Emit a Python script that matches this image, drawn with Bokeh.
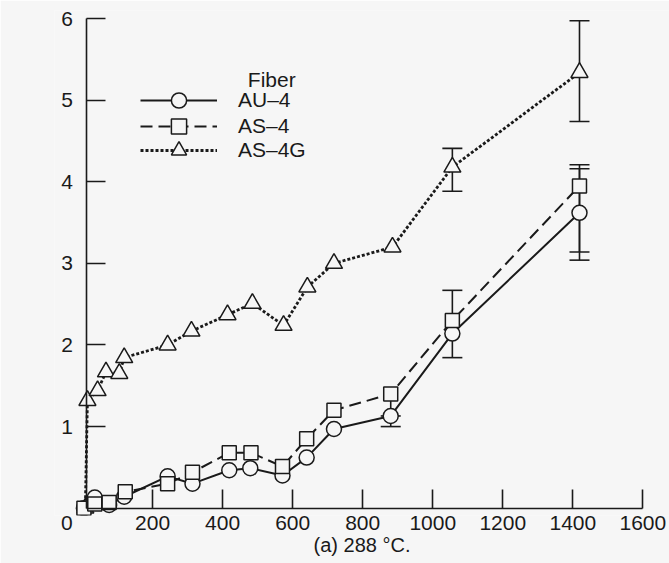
from bokeh.plotting import figure
from bokeh.models import Range1d, FixedTicker, Legend, LegendItem, Label, LinearAxis
from bokeh.embed import file_html
from bokeh.resources import INLINE

# ---- data ----
au4_x = [4, 35, 76, 119, 243, 314, 419, 479, 571, 640, 718, 880, 1056, 1419]
au4_y = [0.0, 0.13, 0.04, 0.14, 0.39, 0.30, 0.465, 0.49, 0.40, 0.62, 0.97, 1.13, 2.14, 3.62]

as4_x = [4, 35, 76, 122, 243, 314, 419, 481, 571, 640, 718, 880, 1056, 1419]
as4_y = [0.0, 0.05, 0.07, 0.20, 0.30, 0.44, 0.68, 0.68, 0.51, 0.85, 1.20, 1.40, 2.30, 3.95]

as4g_x = [8, 14, 43, 67, 105, 119, 243, 311, 414, 485, 574, 642, 718, 885, 1056, 1419]
as4g_y = [0.0, 1.32, 1.44, 1.67, 1.65, 1.845, 2.0, 2.17, 2.37, 2.51, 2.24, 2.71, 3.0, 3.2, 4.18, 5.34]

# error bars: x, value, low, high
au4_err_x = [880, 1056, 1419]
au4_err_v = [1.13, 2.14, 3.62]
au4_err_lo = [1.0, 1.845, 3.04]
au4_err_hi = [1.13, 2.14, 4.16]

as4_err_x = [880, 1056, 1419]
as4_err_v = [1.40, 2.30, 3.95]
as4_err_lo = [1.13, 2.30, 3.14]
as4_err_hi = [1.40, 2.67, 4.21]

as4g_err_x = [1056, 1419]
as4g_err_v = [4.18, 5.34]
as4g_err_lo = [3.885, 4.74]
as4g_err_hi = [4.41, 5.975]

x_ticks = [200, 400, 600, 800, 1000, 1200, 1400, 1600]
y_ticks = [1, 2, 3, 4, 5, 6]
origin_label = "0"
origin_label_x = -45          # the shared corner "0" sits left of the axes
axis_x0, axis_y0 = 12.5, 0    # where the two axis lines cross
x_end, y_end = 1600, 6

series_names = ["AU–4", "AS–4", "AS–4G"]
legend_title = "Fiber"
x_title = "(a) 288 °C."

BG = "#f6f6f6"
INK = "#1a1a1a"
FONT = "Liberation Sans"

p = figure(width=669, height=563,
           x_range=Range1d(-80, 1676), y_range=Range1d(-0.09, 6.1),
           output_backend="svg", toolbar_location=None,
           x_axis_location=None, y_axis_location=None,
           min_border_left=54, min_border_right=0,
           min_border_top=10, min_border_bottom=48)
p.background_fill_color = BG
p.border_fill_color = BG
p.outline_line_color = None
p.grid.visible = False

# x tick labels + title on the frame's lower edge
xlab = LinearAxis(ticker=FixedTicker(ticks=[origin_label_x] + x_ticks),
                  major_label_overrides={origin_label_x: origin_label})
xlab.axis_line_color = None
xlab.major_tick_line_color = None
xlab.minor_tick_line_color = None
xlab.major_tick_in = 0
xlab.major_tick_out = 0
xlab.major_label_text_font = FONT
xlab.major_label_text_font_size = "21px"
xlab.major_label_text_color = INK
xlab.major_label_standoff = 0
xlab.axis_label = x_title
xlab.axis_label_text_font = FONT
xlab.axis_label_text_font_size = "20px"
xlab.axis_label_text_font_style = "normal"
xlab.axis_label_text_color = INK
xlab.axis_label_standoff = 1
p.add_layout(xlab, "below")

# axis lines with inward ticks, crossing at the data origin
xline = LinearAxis(fixed_location=axis_y0, bounds=(axis_x0, x_end),
                   ticker=FixedTicker(ticks=x_ticks))
yline = LinearAxis(fixed_location=axis_x0, bounds=(axis_y0, y_end),
                   ticker=FixedTicker(ticks=y_ticks))
for ax in (xline, yline):
    ax.axis_line_color = INK
    ax.axis_line_width = 1.6
    ax.major_tick_line_color = INK
    ax.major_tick_line_width = 1.6
    ax.major_tick_in = 19
    ax.major_tick_out = 0
    ax.minor_tick_line_color = None
    ax.major_label_text_font = FONT
    ax.major_label_text_font_size = "21px"
xline.major_label_text_color = None   # x labels come from xlab
yline.major_label_text_color = INK
yline.major_label_standoff = 14
p.add_layout(xline, "below")
p.add_layout(yline, "left")

# lines
l_au = p.line(au4_x, au4_y, line_color=INK, line_width=2)
l_as = p.line(as4_x, as4_y, line_color=INK, line_width=2, line_dash="12 6")
l_ag = p.line(as4g_x, as4g_y, line_color=INK, line_width=2.8, line_dash="3 2")


def error_bars(xs, vs, los, his):
    p.segment(xs, los, xs, his, line_color=INK, line_width=1.6)
    cx, cy = [], []
    for x, v, lo, hi in zip(xs, vs, los, his):
        if lo < v:
            cx.append(x); cy.append(lo)
        if hi > v:
            cx.append(x); cy.append(hi)
    p.scatter(cx, cy, marker="dash", size=20, line_color=INK, line_width=1.6)


error_bars(as4g_err_x, as4g_err_v, as4g_err_lo, as4g_err_hi)
error_bars(as4_err_x, as4_err_v, as4_err_lo, as4_err_hi)
error_bars(au4_err_x, au4_err_v, au4_err_lo, au4_err_hi)

m_ag = p.scatter(as4g_x, as4g_y, marker="triangle", size=17, fill_color=BG,
                 line_color=INK, line_width=1.5)
m_au = p.scatter(au4_x, au4_y, marker="circle", size=15, fill_color=BG,
                 line_color=INK, line_width=1.5)
m_as = p.scatter(as4_x, as4_y, marker="square", size=14, fill_color=BG,
                 line_color=INK, line_width=1.5)

# one single-row legend per series so the rows can sit closer than the
# glyph box height (the glyph box sets the legend marker size)
legend_rows = [(series_names[0], [l_au, m_au], 396),
               (series_names[1], [l_as, m_as], 370),
               (series_names[2], [l_ag, m_ag], 346)]
for name, rends, ypos in legend_rows:
    lg = Legend(items=[LegendItem(label=name, renderers=rends)],
                location=(86, ypos), orientation="vertical", padding=0, margin=0,
                spacing=0, glyph_width=77, glyph_height=38, label_standoff=21,
                label_height=20, label_text_font=FONT, label_text_font_size="21px",
                label_text_color=INK, border_line_color=None,
                background_fill_alpha=0)
    p.add_layout(lg)

p.add_layout(Label(x=472, y=5.26, text=legend_title, text_font=FONT,
                   text_font_size="21px", text_color=INK,
                   text_align="left", text_baseline="alphabetic"))

open("out.html", "w").write(file_html(p, INLINE))
